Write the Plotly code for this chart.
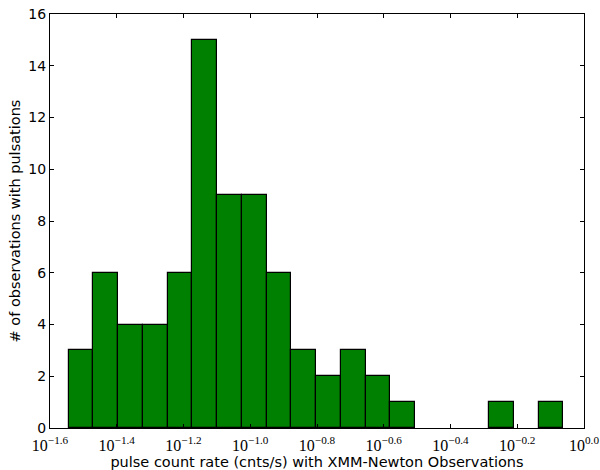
import numpy as np
import plotly.graph_objects as go

# Histogram data (log10 of pulse count rate, cnts/s)
counts = [3, 6, 4, 4, 6, 15, 9, 9, 6, 3, 2, 3, 2, 1, 0, 0, 0, 1, 0, 1]
log_rate_min = -1.544   # lower edge of first bin (log10)
log_rate_max = -0.0615  # upper edge of last bin (log10)

tick_vals = [-1.6, -1.4, -1.2, -1.0, -0.8, -0.6, -0.4, -0.2, 0.0]
tick_text = ["10<sup>\u22121.6</sup>", "10<sup>\u22121.4</sup>", "10<sup>\u22121.2</sup>",
             "10<sup>\u22121.0</sup>", "10<sup>\u22120.8</sup>", "10<sup>\u22120.6</sup>",
             "10<sup>\u22120.4</sup>", "10<sup>\u22120.2</sup>", "10<sup>0.0</sup>"]
y_ticks = [0, 2, 4, 6, 8, 10, 12, 14, 16]

edges = np.linspace(log_rate_min, log_rate_max, len(counts) + 1)
centers = (edges[:-1] + edges[1:]) / 2
widths = np.diff(edges)
heights = [c if c > 0 else None for c in counts]

fig = go.Figure()
fig.add_trace(go.Bar(
    x=centers, y=heights, width=widths,
    marker=dict(color="#008000", line=dict(color="black", width=1.2)),
    showlegend=False,
))

fig.update_layout(
    width=600, height=470,
    margin=dict(l=50, r=16, t=14, b=42),
    paper_bgcolor="white", plot_bgcolor="white",
    font=dict(family="DejaVu Sans", size=14, color="black"),
    bargap=0,
)
fig.update_xaxes(
    range=[-1.6, 0.0], tickmode="array", tickvals=tick_vals, ticktext=tick_text,
    tickfont=dict(family="Liberation Serif", size=16),
    ticks="inside", ticklen=4, tickcolor="black", ticklabelstandoff=3,
    showline=True, linecolor="black", linewidth=1, mirror="ticks",
    showgrid=False, zeroline=False, automargin=False,
    title=dict(text="pulse count rate (cnts/s) with XMM-Newton Observations",
               font=dict(family="DejaVu Sans", size=14.5), standoff=6),
)
fig.update_yaxes(
    range=[0, 16], tickmode="array", tickvals=y_ticks,
    tickfont=dict(family="DejaVu Sans", size=14),
    ticks="inside", ticklen=4, tickcolor="black",
    showline=True, linecolor="black", linewidth=1, mirror="ticks",
    showgrid=False, zeroline=False, automargin=False,
    title=dict(text="# of observations with pulsations",
               font=dict(family="DejaVu Sans", size=14.5), standoff=4),
)

fig.write_html("out.html")
